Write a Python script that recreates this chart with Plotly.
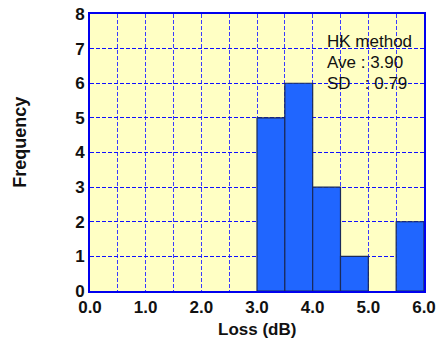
import plotly.graph_objects as go

bin_centers = [3.25, 3.75, 4.25, 4.75, 5.75]
counts = [5, 6, 3, 1, 2]
bin_width = 0.5
x_tickvals = [0, 0.5, 1, 1.5, 2, 2.5, 3, 3.5, 4, 4.5, 5, 5.5, 6]
x_ticktext = ["0.0", "", "1.0", "", "2.0", "", "3.0", "", "4.0", "", "5.0", "", "6.0"]
y_tickvals = [0, 1, 2, 3, 4, 5, 6, 7, 8]
info_lines = ["HK method", "Ave : 3.90", "SD\u00a0\u00a0\u00a0: 0.79"]

FONT = "Arial, Liberation Sans, Helvetica, sans-serif"

fig = go.Figure()
fig.add_trace(go.Bar(
    x=bin_centers, y=counts, width=bin_width,
    marker=dict(color="#2066FF", line=dict(color="#1a2a5a", width=1.2)),
))

for i, t in enumerate(info_lines):
    fig.add_annotation(
        x=4.22, y=7.22 - i * 0.62, xref="x", yref="y",
        text=t, showarrow=False, xanchor="left", yanchor="middle",
        font=dict(family=FONT, size=17, color="#111111"),
    )

fig.add_annotation(x=0.5, y=0, xref="paper", yref="paper", yanchor="middle", yshift=-38,
                   text="<b>Loss (dB)</b>", showarrow=False,
                   font=dict(family=FONT, size=17, color="#111111"))
fig.add_annotation(x=0, y=0.535, xref="paper", yref="paper", xanchor="center", xshift=-70,
                   text="<b>Frequency</b>", showarrow=False, textangle=-90,
                   font=dict(family=FONT, size=18, color="#111111"))

axis_common = dict(
    showline=True, linecolor="#0000EE", linewidth=2, mirror=True,
    showgrid=True, griddash="4px,2px",
    zeroline=False, ticks="", layer="below traces", automargin=False,
    tickfont=dict(family=FONT, size=17, color="#111111", weight="bold"),
)

fig.update_layout(
    width=436, height=340,
    margin=dict(l=90, r=12, t=14, b=49),
    paper_bgcolor="white", plot_bgcolor="#FFFFC4",
    showlegend=False,
    xaxis=dict(range=[0, 6], tickvals=x_tickvals, ticktext=x_ticktext,
               gridwidth=1, gridcolor="#3A3AFF", **axis_common),
    yaxis=dict(range=[0, 8], tickvals=y_tickvals, gridwidth=1, gridcolor="#1010FF", **axis_common),
)

fig.write_html("out.html", post_script="document.body.style.margin='0';",
               config={"displayModeBar": False})
